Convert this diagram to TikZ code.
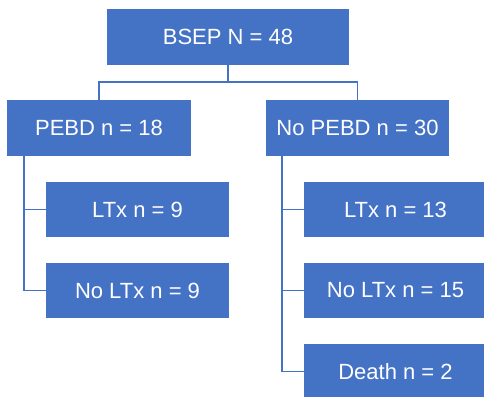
\documentclass[tikz,border=0pt]{standalone}
\usepackage{fontspec}
\setmainfont{Liberation Sans}
\definecolor{boxblue}{HTML}{4472C4}
\begin{document}
\begin{tikzpicture}[x=1pt,y=-1pt,
  box/.style={rectangle, fill=boxblue, draw=none, text=white, inner sep=0pt,
    minimum height=55pt, font=\fontsize{22}{26}\selectfont},
  link/.style={draw=boxblue, line width=1.5pt}]
\useasboundingbox[fill=white] (0,0) rectangle (484,396);
\node[box, minimum width=242pt, minimum height=56pt] (bsep) at (228,37) {BSEP N = 48};
\node[box, minimum width=184pt, minimum height=56pt] (pebd) at (99,128) {PEBD n = 18};
\node[box, minimum width=183pt, minimum height=56pt] (nopebd) at (357.5,128) {No PEBD n = 30};
\node[box, minimum width=183pt] (ltxa) at (137.5,209.5) {LTx n = 9};
\node[box, minimum width=183pt] (noltxa) at (137.5,290.5) {No LTx n = 9};
\node[box, minimum width=183pt] (ltxb) at (395.5,209.5) {LTx n = 13};
\node[box, minimum width=183pt] (noltxb) at (395.5,290.5) {No LTx n = 15};
\node[box, minimum width=183pt] (death) at (395.5,371.5) {Death n = 2};
\coordinate (split) at (228,82);
\draw[link] (bsep.south) -- (split) -| (pebd.north);
\draw[link] (split) -| (nopebd.north);
\coordinate (lstem) at ([xshift=17pt]pebd.south west);
\coordinate (rstem) at ([xshift=16pt]nopebd.south west);
\draw[link] (lstem) |- (ltxa.west);
\draw[link] (lstem) |- (noltxa.west);
\draw[link] (rstem) |- (ltxb.west);
\draw[link] (rstem) |- (noltxb.west);
\draw[link] (rstem) |- (death.west);
\end{tikzpicture}
\end{document}
